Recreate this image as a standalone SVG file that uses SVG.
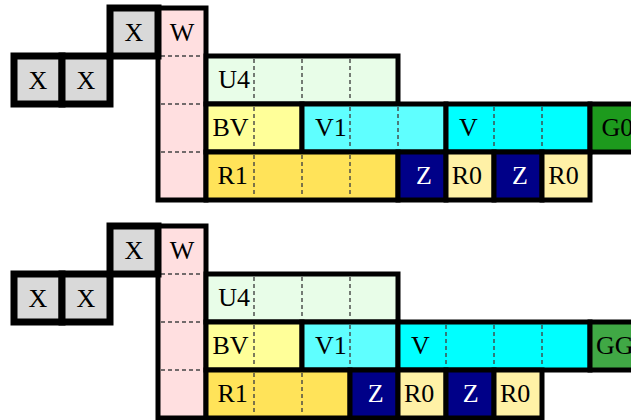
<svg xmlns="http://www.w3.org/2000/svg" width="631" height="420" viewBox="0 0 631 420">
<defs>
<style>
text{font-family:"Liberation Serif","Times New Roman",serif;font-size:26px;fill:#000}
.wt{fill:#fff}
.m{text-anchor:middle}
.b{stroke:#000;stroke-width:5}
.bx{stroke:#000;stroke-width:7;fill:#d9d9d9}
.d{stroke:#444;stroke-width:1.4;stroke-dasharray:4 3;fill:none}
.pk{fill:#ffdfe0}
.lg{fill:#e8fde8}
.yl{fill:#ffff99}
.c1{fill:#5fffff}
.c2{fill:#00ffff}
.g0{fill:#1d9a1d}
.gg{fill:#40a845}
.gd{fill:#ffe359}
.nv{fill:#000088}
.py{fill:#fff1a6}
</style>
</defs>
<g id="diagram1">
  <g id="d1-W"><rect class="b pk" x="158" y="8" width="48" height="192"/>
    <path class="d" d="M161 56H203M161 104H203M161 152H203"/>
    <text class="m" x="182" y="41">W</text></g>
  <g id="d1-U4"><rect class="b lg" x="206" y="56" width="192" height="48"/>
    <path class="d" d="M254 59V101M302 59V101M350 59V101"/>
    <text x="218.3" y="87.5">U4</text></g>
  <g id="d1-BV"><rect class="b yl" x="206" y="104" width="96" height="48"/>
    <path class="d" d="M254 107V149"/>
    <text x="212.5" y="135.5">BV</text></g>
  <g id="d1-V1"><rect class="b c1" x="302" y="104" width="144" height="48"/>
    <path class="d" d="M350 107V149M398 107V149"/>
    <text x="315" y="135.5">V1</text></g>
  <g id="d1-V"><rect class="b c2" x="446" y="104" width="144" height="48"/>
    <path class="d" d="M494 107V149M542 107V149"/>
    <text x="459" y="135.5">V</text></g>
  <g id="d1-G0"><rect class="b g0" x="590" y="104" width="48" height="48"/>
    <text x="601.5" y="135.5">G0</text></g>
  <g id="d1-R1"><rect class="b gd" x="206" y="152" width="192" height="48"/>
    <path class="d" d="M254 155V197M302 155V197M350 155V197"/>
    <text x="217.5" y="183.5">R1</text></g>
  <g id="d1-Z1"><rect class="b nv" x="398" y="152" width="48" height="48"/>
    <text class="m wt" x="424" y="183.5">Z</text></g>
  <g id="d1-R0a"><rect class="b py" x="446" y="152" width="48" height="48"/>
    <text x="451.7" y="183.5">R0</text></g>
  <g id="d1-Z2"><rect class="b nv" x="494" y="152" width="48" height="48"/>
    <text class="m wt" x="520" y="183.5">Z</text></g>
  <g id="d1-R0b"><rect class="b py" x="542" y="152" width="48" height="48"/>
    <text x="548.3" y="183.5">R0</text></g>
  <g id="d1-X1"><rect class="bx" x="14" y="56" width="48" height="48"/>
    <text class="m" x="38" y="89">X</text></g>
  <g id="d1-X2"><rect class="bx" x="62" y="56" width="48" height="48"/>
    <text class="m" x="86" y="89">X</text></g>
  <g id="d1-X3"><rect class="bx" x="110" y="8" width="48" height="48"/>
    <text class="m" x="134" y="41">X</text></g>
</g>
<g id="diagram2" transform="translate(0,218)">
  <g id="d2-W"><rect class="b pk" x="158" y="8" width="48" height="192"/>
    <path class="d" d="M161 56H203M161 104H203M161 152H203"/>
    <text class="m" x="182" y="41">W</text></g>
  <g id="d2-U4"><rect class="b lg" x="206" y="56" width="192" height="48"/>
    <path class="d" d="M254 59V101M302 59V101M350 59V101"/>
    <text x="218.3" y="87.5">U4</text></g>
  <g id="d2-BV"><rect class="b yl" x="206" y="104" width="96" height="48"/>
    <path class="d" d="M254 107V149"/>
    <text x="212.5" y="135.5">BV</text></g>
  <g id="d2-V1"><rect class="b c1" x="302" y="104" width="96" height="48"/>
    <path class="d" d="M350 107V149"/>
    <text x="315" y="135.5">V1</text></g>
  <g id="d2-V"><rect class="b c2" x="398" y="104" width="192" height="48"/>
    <path class="d" d="M446 107V149M494 107V149M542 107V149"/>
    <text x="411" y="135.5">V</text></g>
  <g id="d2-GG"><rect class="b gg" x="590" y="104" width="48" height="48"/>
    <text x="596" y="135.5">GG</text></g>
  <g id="d2-R1"><rect class="b gd" x="206" y="152" width="144" height="48"/>
    <path class="d" d="M254 155V197M302 155V197"/>
    <text x="217.5" y="183.5">R1</text></g>
  <g id="d2-Z1"><rect class="b nv" x="350" y="152" width="48" height="48"/>
    <text class="m wt" x="375.8" y="183.5">Z</text></g>
  <g id="d2-R0a"><rect class="b py" x="398" y="152" width="48" height="48"/>
    <text x="404" y="183.5">R0</text></g>
  <g id="d2-Z2"><rect class="b nv" x="446" y="152" width="48" height="48"/>
    <text class="m wt" x="470.8" y="183.5">Z</text></g>
  <g id="d2-R0b"><rect class="b py" x="494" y="152" width="48" height="48"/>
    <text x="500" y="183.5">R0</text></g>
  <g id="d2-X1"><rect class="bx" x="14" y="56" width="48" height="48"/>
    <text class="m" x="38" y="89">X</text></g>
  <g id="d2-X2"><rect class="bx" x="62" y="56" width="48" height="48"/>
    <text class="m" x="86" y="89">X</text></g>
  <g id="d2-X3"><rect class="bx" x="110" y="8" width="48" height="48"/>
    <text class="m" x="134" y="41">X</text></g>
</g>
<g id="connectors"/>
</svg>
